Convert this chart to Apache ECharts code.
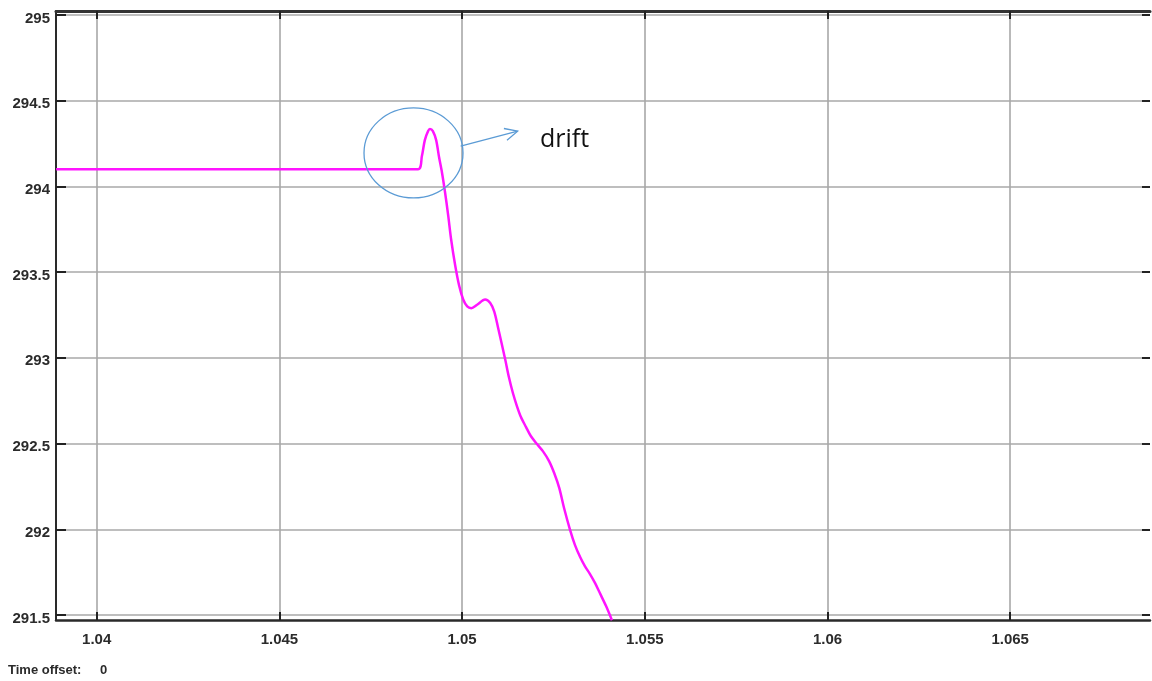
<!DOCTYPE html>
<html>
<head>
<meta charset="utf-8">
<style>
html,body{margin:0;padding:0;background:#fff;}
#chart{width:1152px;height:681px;}
</style>
<script src="https://cdn.jsdelivr.net/npm/echarts@6/dist/echarts.min.js"></script>
</head>
<body>
<div id="chart"></div>
<script>
// ---- data ----
var xTicks = [1.04, 1.045, 1.05, 1.055, 1.06, 1.065];
var xTickLabels = ['1.04', '1.045', '1.05', '1.055', '1.06', '1.065'];
var yTicks = [291.5, 292, 292.5, 293, 293.5, 294, 294.5, 295];
var yTickLabels = ['291.5', '292', '292.5', '293', '293.5', '294', '294.5', '295'];
var timeX = [1.03889, 1.04879, 1.04890, 1.04898, 1.04907, 1.04912, 1.04920, 1.04929, 1.04937, 1.04945,
             1.04953, 1.04962, 1.04970, 1.04981, 1.04992, 1.05003, 1.05014, 1.05025, 1.05041, 1.05063,
             1.05077, 1.05088, 1.05098, 1.05118, 1.05128, 1.05139, 1.05150, 1.05161, 1.05175, 1.05188,
             1.05205, 1.05221, 1.05238, 1.05252, 1.05266, 1.05279, 1.05295, 1.05309, 1.05323, 1.05336,
             1.05350, 1.05364, 1.05377, 1.05394, 1.05410];
var signalY = [294.10, 294.10, 294.177, 294.27, 294.323, 294.335, 294.323, 294.27, 294.17, 294.08,
               293.97, 293.83, 293.69, 293.54, 293.42, 293.34, 293.30, 293.29, 293.31, 293.34,
               293.32, 293.27, 293.18, 292.99, 292.888, 292.795, 292.719, 292.655, 292.596, 292.544,
               292.497, 292.456, 292.398, 292.328, 292.240, 292.124, 292.00, 291.908, 291.838, 291.785,
               291.739, 291.686, 291.628, 291.552, 291.470];
var annotationText = 'drift';
var footerLabel = 'Time offset:';
var footerValue = '0';

var xMin = 1.038886, xMax = 1.068826;
var yMin = 291.471, yMax = 295.023;

var seriesData = timeX.map(function (x, i) { return [x, signalY[i]]; });

function fmt(list, labels, rich) {
  return function (v) {
    for (var i = 0; i < list.length; i++) {
      if (Math.abs(list[i] - v) < 1e-9) return rich ? '{a|' + labels[i] + '}' : labels[i];
    }
    return '';
  };
}

var chart = echarts.init(document.getElementById('chart'), null, {renderer: 'canvas'});
var gridLine = {show: true, lineStyle: {color: '#a8a8a8', width: 1.6}};
var labelFont = {color: '#2b2b2b', fontSize: 15, fontWeight: 'bold', fontFamily: 'Liberation Sans, Arial, sans-serif'};
var option = {
  animation: false,
  backgroundColor: '#ffffff',
  grid: {left: 56, right: 2, top: 11, bottom: 61, containLabel: false},
  xAxis: [{
    type: 'value', min: xMin, max: xMax, position: 'bottom',
    axisLine: {show: true, onZero: false, lineStyle: {color: '#2a2a2a', width: 2.5}},
    axisTick: {show: true, inside: true, length: 8, customValues: xTicks, lineStyle: {color: '#222', width: 2}},
    axisLabel: Object.assign({show: true, customValues: xTicks, formatter: fmt(xTicks, xTickLabels, false), margin: 12}, labelFont),
    splitLine: gridLine
  }, {
    type: 'value', min: xMin, max: xMax, position: 'top',
    axisLine: {show: true, onZero: false, lineStyle: {color: '#333', width: 3}},
    axisTick: {show: true, inside: true, length: 8, customValues: xTicks, lineStyle: {color: '#222', width: 2}},
    axisLabel: {show: false},
    splitLine: {show: false}
  }],
  yAxis: [{
    type: 'value', min: yMin, max: yMax, position: 'left',
    axisLine: {show: true, onZero: false, lineStyle: {color: '#2a2a2a', width: 2}},
    axisTick: {show: true, inside: true, length: 10, customValues: yTicks, lineStyle: {color: '#222', width: 2}},
    axisLabel: Object.assign({show: true, customValues: yTicks, formatter: fmt(yTicks, yTickLabels, true), margin: 6,
      rich: {a: {color: '#2b2b2b', fontSize: 15, fontWeight: 'bold', fontFamily: 'Liberation Sans, Arial, sans-serif',
        padding: [7, 0, 0, 0]}}}, labelFont),
    splitLine: gridLine
  }, {
    type: 'value', min: yMin, max: yMax, position: 'right',
    axisLine: {show: false},
    axisTick: {show: true, inside: true, length: 8, customValues: yTicks, lineStyle: {color: '#222', width: 2}},
    axisLabel: {show: false},
    splitLine: {show: false}
  }],
  series: [{
    type: 'line', xAxisIndex: 0, yAxisIndex: 0,
    data: seriesData, showSymbol: false, smooth: 0.3, clip: true,
    lineStyle: {color: '#ff14ff', width: 2.5}
  }]
};
chart.setOption(option);

// annotation anchored to data coordinates
var c = chart.convertToPixel({xAxisIndex: 0, yAxisIndex: 0}, [1.04867, 294.195]);
var a0 = chart.convertToPixel({xAxisIndex: 0, yAxisIndex: 0}, [1.04996, 294.235]);
var a1 = chart.convertToPixel({xAxisIndex: 0, yAxisIndex: 0}, [1.05152, 294.322]);
var t = chart.convertToPixel({xAxisIndex: 0, yAxisIndex: 0}, [1.05213, 294.27]);
var dx = a1[0] - a0[0], dy = a1[1] - a0[1];
var L = Math.sqrt(dx * dx + dy * dy), ux = dx / L, uy = dy / L;
var head = 14, spread = 0.45;
function rot(ang) {
  var cs = Math.cos(ang), sn = Math.sin(ang);
  return [a1[0] - head * (ux * cs - uy * sn), a1[1] - head * (uy * cs + ux * sn)];
}
chart.setOption({
  graphic: [
    {type: 'ellipse', shape: {cx: c[0], cy: c[1], rx: 49.5, ry: 45},
      style: {fill: 'none', stroke: '#5b9bd5', lineWidth: 1.3}, z: 100},
    {type: 'line', shape: {x1: a0[0], y1: a0[1], x2: a1[0], y2: a1[1]},
      style: {stroke: '#5b9bd5', lineWidth: 1.3}, z: 100},
    {type: 'polyline', shape: {points: [rot(spread), a1, rot(-spread)]},
      style: {stroke: '#5b9bd5', lineWidth: 1.3, fill: 'none'}, z: 100},
    {type: 'text', x: t[0], y: t[1],
      style: {text: annotationText, fill: '#111', fontSize: 25, fontFamily: 'Open Sans, Noto Sans, sans-serif',
        verticalAlign: 'middle', align: 'left'}, z: 100},
    {type: 'text', x: 8, y: 670,
      style: {text: footerLabel, fill: '#2b2b2b', fontSize: 13, fontWeight: 'bold', verticalAlign: 'middle',
        fontFamily: 'Liberation Sans, Arial, sans-serif'}},
    {type: 'text', x: 100, y: 670,
      style: {text: footerValue, fill: '#2b2b2b', fontSize: 13, fontWeight: 'bold', verticalAlign: 'middle',
        fontFamily: 'Liberation Sans, Arial, sans-serif'}}
  ]
});
</script>
</body>
</html>
